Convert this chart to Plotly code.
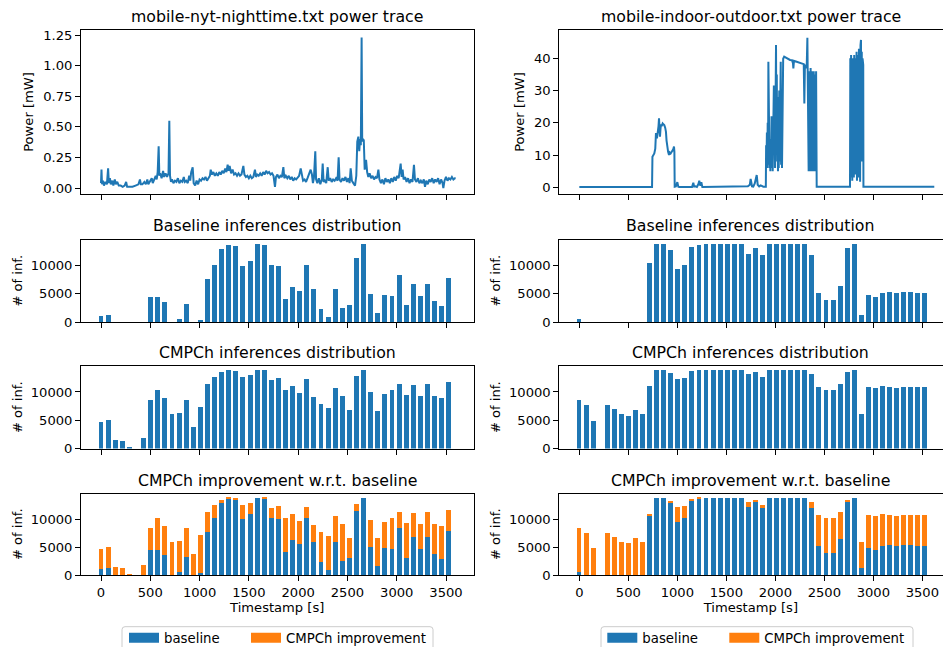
import plotly.graph_objects as go

# ---------------- data ----------------
BAR_TIMES = [0, 72, 144, 216, 288, 360, 432, 504, 576, 648, 720, 792, 864, 936, 1008,
             1080, 1152, 1224, 1296, 1368, 1440, 1512, 1584, 1656, 1728, 1800, 1872,
             1944, 2016, 2088, 2160, 2232, 2304, 2376, 2448, 2520, 2592, 2664, 2736,
             2808, 2880, 2952, 3024, 3096, 3168, 3240, 3312, 3384, 3456, 3528]

NYT_BASELINE = [1180, 1360, 0, 0, 0, 0, 0, 4550, 4550, 3670, 0, 650, 3310, 0, 470,
                7750, 10240, 13020, 13790, 13610, 10060, 10950, 13900, 13790, 10240,
                10060, 4200, 6330, 5620, 10240, 5980, 2430, 1000, 5980, 2600, 3140,
                11480, 13900, 5090, 1720, 4910, 4730, 8460, 3140, 6860, 4730, 6860,
                3850, 2960, 7930]
NYT_CMPCH = [4670, 5030, 1540, 1360, 150, 0, 1890, 8580, 10360, 8930, 6090, 6270,
             8580, 3790, 7340, 11420, 12660, 13550, 13900, 13730, 12660, 13020, 13900,
             13900, 12130, 12490, 10360, 11070, 9820, 12310, 9110, 7870, 7160, 10710,
             9290, 6800, 12840, 13900, 10000, 6630, 9640, 10360, 11420, 9470, 11240,
             9290, 11420, 9290, 8930, 11780]

IO_BASELINE = [650, 0, 0, 0, 0, 0, 0, 0, 0, 0, 10600, 13900, 13900, 12900, 9530,
               10240, 13430, 13790, 13900, 13900, 13900, 13900, 13900, 13900, 12190,
               13250, 12010, 13900, 13900, 13900, 13900, 13900, 13900, 12010, 5270,
               4020, 4020, 6510, 13250, 13900, 1360, 4910, 4550, 5270, 5440, 5270,
               5440, 5440, 5270, 5270]
IO_CMPCH = [8580, 7690, 4850, 0, 7690, 6980, 6090, 5740, 6800, 6090, 11070, 13900,
            13900, 13370, 12310, 12490, 13730, 13900, 13900, 13900, 13900, 13900,
            13900, 13900, 13200, 13550, 12660, 13900, 13900, 13900, 13900, 13900,
            13900, 13200, 10890, 10360, 10360, 11420, 13550, 13900, 6090, 10890,
            10710, 11070, 10890, 10710, 10890, 10890, 10890, 10890]

NYT_T = [0, 5, 10, 20, 30, 45, 60, 72, 80, 90, 100, 115, 125, 140, 150, 165, 180, 200,
         220, 240, 255, 265, 290, 320, 350, 380, 395, 405, 420, 440, 455, 470, 480, 500,
         515, 525, 540, 555, 565, 575, 585, 592, 600, 615, 630, 640, 655, 670, 685, 693,
         700, 710, 720, 735, 750, 765, 780, 795, 810, 825, 840, 850, 865, 880, 895, 905,
         915, 930, 940, 955, 970, 985, 1000, 1015, 1030, 1045, 1060, 1075, 1090, 1105,
         1113, 1125, 1140, 1155, 1170, 1185, 1200, 1215, 1230, 1245, 1260, 1272, 1285,
         1295, 1305, 1320, 1335, 1350, 1365, 1380, 1395, 1410, 1425, 1444, 1455, 1470,
         1485, 1500, 1515, 1530, 1545, 1562, 1572, 1585, 1600, 1615, 1630, 1645, 1660,
         1675, 1690, 1705, 1720, 1735, 1750, 1765, 1775, 1790, 1805, 1820, 1835, 1850,
         1860, 1875, 1890, 1905, 1920, 1935, 1950, 1965, 1980, 1995, 2010, 2026, 2038,
         2050, 2065, 2080, 2095, 2110, 2127, 2140, 2150, 2160, 2174, 2182, 2195, 2210,
         2225, 2240, 2249, 2258, 2270, 2285, 2300, 2310, 2325, 2340, 2355, 2370, 2385,
         2400, 2411, 2420, 2435, 2450, 2465, 2480, 2495, 2510, 2522, 2533, 2545, 2560,
         2577, 2590, 2600, 2611, 2620, 2628, 2636, 2644, 2650, 2658, 2666, 2675, 2689,
         2700, 2712, 2725, 2740, 2755, 2770, 2785, 2800, 2814, 2825, 2840, 2855, 2870,
         2885, 2900, 2915, 2930, 2945, 2960, 2975, 2990, 3005, 3020, 3030, 3040, 3050,
         3060, 3070, 3085, 3100, 3115, 3130, 3145, 3160, 3175, 3185, 3200, 3215, 3230,
         3245, 3260, 3275, 3287, 3300, 3315, 3330, 3345, 3360, 3375, 3390, 3405, 3420,
         3435, 3450, 3465, 3473, 3485, 3500, 3515, 3530, 3545, 3560, 3575, 3590, 3598]
NYT_P = [0.04, 0.15, 0.03, 0.06, 0.02, 0.05, 0.03, 0.16, 0.04, 0.08, 0.03, 0.06, 0.02,
         0.07, 0.03, 0.05, 0.02, 0.02, 0.01, 0.02, 0.05, 0.01, 0.01, 0.01, 0.02, 0.03,
         0.07, 0.03, 0.03, 0.05, 0.03, 0.07, 0.03, 0.06, 0.08, 0.04, 0.08, 0.10, 0.07,
         0.13, 0.34, 0.10, 0.12, 0.08, 0.14, 0.09, 0.12, 0.09, 0.12, 0.55, 0.10, 0.05,
         0.07, 0.04, 0.06, 0.05, 0.08, 0.04, 0.06, 0.05, 0.09, 0.05, 0.06, 0.04, 0.10,
         0.06, 0.13, 0.17, 0.04, 0.02, 0.06, 0.03, 0.07, 0.06, 0.08, 0.07, 0.09, 0.06,
         0.08, 0.10, 0.15, 0.11, 0.13, 0.10, 0.12, 0.10, 0.13, 0.11, 0.14, 0.12, 0.16,
         0.13, 0.19, 0.14, 0.18, 0.12, 0.15, 0.11, 0.12, 0.10, 0.12, 0.10, 0.11, 0.18,
         0.11, 0.09, 0.10, 0.08, 0.10, 0.08, 0.09, 0.15, 0.09, 0.11, 0.10, 0.12, 0.10,
         0.13, 0.11, 0.14, 0.12, 0.13, 0.11, 0.12, 0.10, 0.01, 0.09, 0.11, 0.08, 0.10,
         0.09, 0.17, 0.08, 0.10, 0.08, 0.10, 0.07, 0.09, 0.06, 0.08, 0.07, 0.09, 0.10,
         0.16, 0.09, 0.06, 0.07, 0.05, 0.08, 0.12, 0.15, 0.11, 0.04, 0.08, 0.30, 0.07,
         0.04, 0.08, 0.03, 0.07, 0.20, 0.05, 0.06, 0.04, 0.17, 0.06, 0.08, 0.05, 0.07,
         0.06, 0.08, 0.06, 0.25, 0.07, 0.05, 0.08, 0.06, 0.09, 0.05, 0.08, 0.04, 0.16,
         0.06, 0.04, 0.02, 0.10, 0.38, 0.42, 0.30, 0.40, 0.35, 1.23, 0.38, 0.40, 0.39,
         0.15, 0.23, 0.13, 0.09, 0.12, 0.08, 0.10, 0.07, 0.09, 0.08, 0.15, 0.07, 0.04,
         0.07, 0.03, 0.08, 0.05, 0.07, 0.04, 0.08, 0.05, 0.09, 0.06, 0.10, 0.08, 0.13,
         0.20, 0.09, 0.15, 0.07, 0.09, 0.05, 0.08, 0.04, 0.07, 0.05, 0.19, 0.07, 0.05,
         0.08, 0.04, 0.06, 0.04, 0.07, 0.01, 0.06, 0.03, 0.07, 0.05, 0.08, 0.04, 0.07,
         0.05, 0.08, 0.03, 0.07, 0.04, 0.00, 0.06, 0.09, 0.06, 0.08, 0.07, 0.09, 0.07,
         0.08, 0.08]

IO_T = [0, 742, 746, 765, 775, 782, 792, 803, 808, 813, 818, 823, 828, 833, 840, 850,
        858, 867, 876, 884, 890, 898, 906, 915, 922, 932, 940, 949, 958, 966, 970, 973,
        985, 1000, 1010, 1020, 1150, 1163, 1172, 1185, 1200, 1215, 1224, 1235, 1245,
        1255, 1680, 1700, 1720, 1740, 1748, 1755, 1762, 1775, 1790, 1810, 1820, 1835,
        1850, 1878, 1895, 1903, 1906, 1910, 1914, 1918, 1922, 1926, 1929, 1933, 1937,
        1941, 1945, 1949, 1953, 1957, 1961, 1965, 1969, 1973, 1977, 1981, 1985, 1989,
        1993, 1997, 2001, 2004, 2007, 2011, 2015, 2019, 2023, 2027, 2031, 2035, 2040,
        2044, 2048, 2051, 2055, 2059, 2063, 2068, 2072, 2076, 2080, 2090, 2100, 2116,
        2130, 2150, 2170, 2180, 2184, 2190, 2210, 2230, 2250, 2270, 2290, 2296, 2302,
        2310, 2320, 2327, 2332, 2336, 2340, 2344, 2348, 2352, 2356, 2360, 2364, 2368,
        2372, 2376, 2380, 2384, 2388, 2392, 2396, 2400, 2404, 2408, 2412, 2416, 2420,
        2422, 2762, 2765, 2769, 2773, 2777, 2781, 2785, 2789, 2793, 2797, 2801, 2805,
        2809, 2813, 2817, 2821, 2825, 2829, 2833, 2837, 2841, 2845, 2849, 2853, 2857,
        2861, 2865, 2869, 2874, 2878, 2882, 2886, 2890, 2894, 2897, 2899, 3622]
IO_P = [0.1, 0.1, 9.5, 10.5, 12, 16.8, 15.2, 17.5, 19, 21.4, 17, 15.7, 18, 19.5, 19,
        19.8, 19.5, 19.3, 18.5, 17.2, 14.5, 12.1, 11, 10, 10.8, 10.5, 10.8, 11.2, 11.8,
        12.6, 11, 0.2, 0.3, 1.6, 0.2, 0.1, 0.1, 1.4, 0.2, 0.3, 0.1, 1.0, 2.0, 0.5, 1.6,
        0.1, 0.4, 0.5, 0.3, 0.8, 2.6, 1.5, 0.3, 0.2, 1.2, 3.8, 0.8, 0.3, 0.6, 0.2, 0.3,
        0.2, 13, 8, 17, 6, 20, 7, 38.9, 9, 25, 6, 15, 5, 12, 7, 22, 6, 18, 5, 28, 8,
        31.6, 10, 20, 6, 25, 7, 44.1, 12, 35, 8, 28, 5, 20, 6, 30, 8, 33, 9, 38.9, 7,
        25, 6, 30, 10, 39.9, 40.5, 40.3, 40.2, 39.8, 39.5, 39.4, 38.5, 36.9, 39.2, 39.0,
        38.8, 38.7, 38.5, 38.2, 26, 38, 37.5, 37, 46.4, 30, 37, 5, 36, 6, 35, 5, 37, 8,
        30, 5, 36, 7, 34, 5, 36, 6, 35, 5, 33, 10, 36, 4.9, 0.2, 0.2, 40, 3, 41, 5, 39,
        2, 40, 8, 38, 3, 41, 12, 40, 4, 39, 6, 42, 2, 40, 10, 41, 3, 43, 7, 42, 1.7, 44,
        45.7, 20, 42, 8, 40, 15, 38, 0.2, 0.2]

LEGEND_NAMES = ["baseline", "CMPCh improvement"]

BLUE = "#1f77b4"
ORANGE = "#ff7f0e"
FONT = "DejaVu Sans"
W, H = 943, 647

NYT_IMPROVE = [c - b for c, b in zip(NYT_CMPCH, NYT_BASELINE)]
IO_IMPROVE = [c - b for c, b in zip(IO_CMPCH, IO_BASELINE)]

# ---------------- layout geometry (pixels) ----------------
COLS = [(81, 473.5), (559.3, 942.5)]
ROWS = [(30, 194), (239.5, 322), (366, 448.5), (493.5, 575)]
XRANGES = [[-202.9, 3779], [-204.4, 3705.8]]
TITLES = [["mobile-nyt-nighttime.txt power trace", "mobile-indoor-outdoor.txt power trace"],
          ["Baseline inferences distribution", "Baseline inferences distribution"],
          ["CMPCh inferences distribution", "CMPCh inferences distribution"],
          ["CMPCh improvement w.r.t. baseline", "CMPCh improvement w.r.t. baseline"]]
LEG_BOX = [(122, 433), (601, 913)]          # legend frame x extents per column
LEG_ITEM_X = [(124, 246), (602.3, 724.3)]    # legend item left positions per column
LEG_TOP = 626.7

fig = go.Figure()


def ax(r, c):
    return 2 * r + c + 1


def name(prefix, n):
    return prefix if n == 1 else f"{prefix}{n}"


# power traces
fig.add_trace(go.Scatter(x=NYT_T, y=NYT_P, mode="lines", line=dict(color=BLUE, width=2),
                         xaxis="x", yaxis="y", showlegend=False))
fig.add_trace(go.Scatter(x=IO_T, y=IO_P, mode="lines", line=dict(color=BLUE, width=2),
                         xaxis="x2", yaxis="y2", showlegend=False))

series = [(NYT_BASELINE, NYT_CMPCH, NYT_IMPROVE), (IO_BASELINE, IO_CMPCH, IO_IMPROVE)]
for c, (base, cmp_, imp) in enumerate(series):
    for r, vals in ((1, base), (2, cmp_)):
        n = ax(r, c)
        fig.add_trace(go.Bar(x=BAR_TIMES, y=vals, width=50, marker=dict(color=BLUE, line=dict(width=0)),
                             xaxis=name("x", n), yaxis=name("y", n), showlegend=False))
    n = ax(3, c)
    fig.add_trace(go.Bar(x=BAR_TIMES, y=base, width=50, marker=dict(color=BLUE, line=dict(width=0)),
                         xaxis=name("x", n), yaxis=name("y", n), showlegend=False))
    fig.add_trace(go.Bar(x=BAR_TIMES, y=imp, width=50, marker=dict(color=ORANGE, line=dict(width=0)),
                         xaxis=name("x", n), yaxis=name("y", n), showlegend=False))
    # legend entries (one legend object per entry, so each can be placed exactly)
    for k, (nm, col) in enumerate(zip(LEGEND_NAMES, [BLUE, ORANGE])):
        lg = name("legend", 2 * c + k + 1)
        fig.add_trace(go.Scatter(x=[None], y=[None], mode="lines", line=dict(color=col, width=10),
                                 name=nm, legend=lg, xaxis=name("x", n), yaxis=name("y", n)))

layout = dict(
    width=W, height=H, margin=dict(l=0, r=0, t=0, b=0, autoexpand=False),
    paper_bgcolor="white", plot_bgcolor="white",
    font=dict(family=FONT, size=13.1, color="black"),
    barmode="relative", bargap=0,
    annotations=[], shapes=[],
)

axis_common = dict(showline=True, mirror=True, linecolor="black", linewidth=1,
                   ticks="outside", ticklen=5, tickwidth=1, tickcolor="black",
                   showgrid=False, zeroline=False, tickfont=dict(family=FONT, size=13.1, color="black"))

for r in range(4):
    for c in range(2):
        n = ax(r, c)
        x0, x1 = COLS[c]
        top, bot = ROWS[r]
        xa = dict(axis_common, domain=[x0 / W, x1 / W], range=XRANGES[c],
                  anchor=name("y", n), tickvals=[0, 500, 1000, 1500, 2000, 2500, 3000, 3500],
                  showticklabels=(r == 3))
        if r == 3:
            xa["title"] = dict(text="Timestamp [s]", font=dict(family=FONT, size=13.1), standoff=4)
        ya = dict(axis_common, domain=[1 - bot / H, 1 - top / H], anchor=name("x", n))
        if r == 0:
            if c == 0:
                ya.update(range=[-0.049, 1.291], tickvals=[0, 0.25, 0.5, 0.75, 1.0, 1.25], tickformat=".2f")
            else:
                ya.update(range=[-2.08, 48.78], tickvals=[0, 10, 20, 30, 40])
            ya["title"] = dict(text="Power [mW]", font=dict(family=FONT, size=13.1), standoff=6)
        else:
            ya.update(range=[0, 14600], tickvals=[0, 5000, 10000], tickformat="d")
            ya["title"] = dict(text="# of inf.", font=dict(family=FONT, size=13.1), standoff=5)
        layout[name("xaxis", n)] = xa
        layout[name("yaxis", n)] = ya
        layout["annotations"].append(dict(
            text=TITLES[r][c], xref="paper", yref="paper",
            x=(x0 + x1) / 2 / W, y=1 - (top - 13.5) / H, xanchor="center", yanchor="middle",
            showarrow=False, font=dict(family=FONT, size=15.75, color="black")))

# legend frames (matplotlib-like rounded box, clipped by the bottom edge)
rad = 3
for (bx0, bx1) in LEG_BOX:
    X0, X1 = bx0 / W, bx1 / W
    Y0, Y1 = 1 - LEG_TOP / H, 1 - 665 / H
    rx, ry = rad / W, rad / H
    path = (f"M {X0},{Y1} L {X0},{Y0 - ry} Q {X0},{Y0} {X0 + rx},{Y0} "
            f"L {X1 - rx},{Y0} Q {X1},{Y0} {X1},{Y0 - ry} L {X1},{Y1}")
    layout["shapes"].append(dict(type="path", path=path, xref="paper", yref="paper",
                                 line=dict(color="#cccccc", width=1), fillcolor="white", layer="below"))

for c in range(2):
    for k in range(2):
        layout[name("legend", 2 * c + k + 1)] = dict(
            orientation="h", xanchor="left", yanchor="top",
            x=LEG_ITEM_X[c][k] / W, y=1 - 622.5 / H,
            bgcolor="rgba(0,0,0,0)", borderwidth=0,
            font=dict(family=FONT, size=13.3, color="black"))

fig.update_layout(**layout)
fig.write_html("out.html")
